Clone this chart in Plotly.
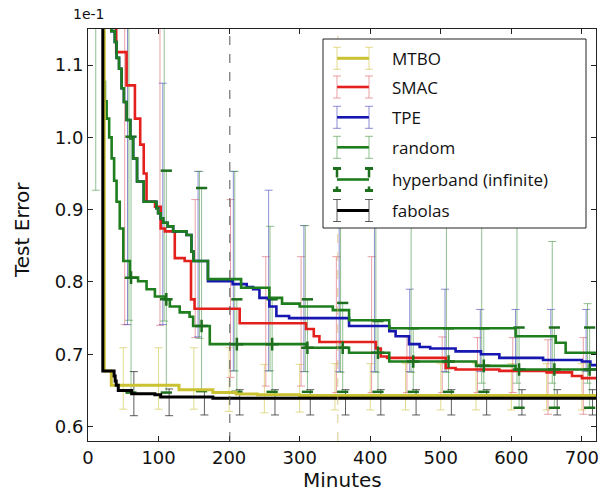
import numpy as np
import plotly.graph_objects as go

# ---------------- data (test error in units of 1e-1, time in minutes) -------------
mtbo_x = [0, 23, 33, 129, 177, 210, 240, 300, 720]
mtbo_y = [1.30, 0.677, 0.657, 0.651, 0.647, 0.645, 0.644, 0.643, 0.643]

smac_x = [0, 40, 54.6, 66.5, 74, 79, 83, 95, 103, 109, 123, 137, 146, 151, 215,
          309, 320, 328, 408, 415, 424, 507, 521, 583, 650, 686, 700, 720]
smac_y = [1.30, 1.118, 1.072, 1.026, 0.99, 0.95, 0.911, 0.904, 0.874, 0.870, 0.833,
          0.829, 0.776, 0.763, 0.743, 0.735, 0.725, 0.717, 0.708, 0.697, 0.695,
          0.681, 0.679, 0.677, 0.675, 0.670, 0.667, 0.667]

tpe_x = [0, 33, 38, 40.5, 44, 47.6, 50.9, 54.7, 60, 64, 69.5, 79, 97, 99.4, 103,
         106.5, 113, 120.7, 139.6, 146.6, 149.5,
         170, 205, 225, 234, 243, 257, 267, 285, 370, 427, 436, 455, 470, 485, 521,
         557, 583, 645, 700, 712, 720]
tpe_y = [1.30, 1.147, 1.132, 1.11, 1.095, 1.068, 1.049, 1.024, 0.999, 0.971, 0.939,
         0.911, 0.902, 0.895, 0.888, 0.882, 0.877, 0.870, 0.865, 0.842, 0.829,
         0.801, 0.797, 0.793, 0.790, 0.778, 0.766, 0.753, 0.750, 0.739, 0.732, 0.725,
         0.714, 0.710, 0.708, 0.704, 0.700, 0.695, 0.692, 0.690, 0.685, 0.685]

random_x = [0, 33, 38, 40.5, 44, 47.6, 50.9, 54.7, 60, 64, 69.5, 79, 97, 99.4, 103,
            106.5, 113, 120.7, 139.6, 146.6, 149.5,
            170, 217, 257, 275, 300, 347, 370, 427, 606, 663, 677, 720]
random_y = [1.30, 1.147, 1.132, 1.11, 1.095, 1.068, 1.049, 1.024, 0.999, 0.971, 0.939,
            0.911, 0.902, 0.895, 0.888, 0.882, 0.877, 0.870, 0.865, 0.842, 0.829,
            0.804, 0.792, 0.778, 0.770, 0.766, 0.761, 0.747, 0.736, 0.725, 0.716,
            0.702, 0.702]

hyper_x = [21.5, 24, 26.4, 30, 33.5, 37, 40.5, 45, 50, 59.4, 71, 83, 94.8, 109, 116,
           130, 144, 149, 172.6, 309, 370, 427, 550, 606, 720]
hyper_y = [1.077, 1.05, 1.026, 1.0, 0.971, 0.94, 0.911, 0.874, 0.829, 0.806, 0.801,
           0.790, 0.780, 0.776, 0.766, 0.758, 0.752, 0.739, 0.714, 0.709, 0.702,
           0.690, 0.684, 0.679, 0.679]

fabolas_x = [0, 21, 37, 38.5, 40, 42.9, 61.8, 94.8, 103, 177, 720]
fabolas_y = [1.30, 0.677, 0.670, 0.663, 0.657, 0.650, 0.6455, 0.644, 0.641, 0.639, 0.639]

# error bar positions and extents (upper / lower whisker ends)
mtbo_ex = [50, 100, 150, 200, 250, 300, 350, 400, 450, 500, 550, 600, 650, 700]
mtbo_up = [0.709, 0.709, 0.709, 0.709, 0.686, 0.686, 0.687, 0.687, 0.687, 0.687, 0.687, 0.687, 0.687, 0.687]
mtbo_lo = [0.624, 0.624, 0.624, 0.621, 0.619, 0.620, 0.623, 0.623, 0.623, 0.623, 0.623, 0.623, 0.623, 0.623]

smac_ex = [52, 102, 152, 202, 252, 302, 352, 402, 452, 502, 552, 602, 652, 702]
smac_up = [1.30, 1.30, 0.914, 0.914, 0.835, 0.835, 0.835, 0.835, 0.724, 0.724, 0.723, 0.723, 0.720, 0.723]
smac_lo = [0.741, 0.740, 0.723, 0.668, 0.656, 0.656, 0.647, 0.647, 0.647, 0.647, 0.647, 0.647, 0.617, 0.617]

tpe_ex = [56, 106, 156, 206, 256, 306, 356, 406, 456, 506, 556, 606, 656, 706]
tpe_up = [1.30, 1.075, 0.953, 0.953, 0.927, 0.878, 0.90, 0.90, 0.790, 0.790, 0.762, 0.762, 0.762, 0.762]
tpe_lo = [0.741, 0.741, 0.724, 0.677, 0.677, 0.676, 0.676, 0.676, 0.676, 0.676, 0.676, 0.676, 0.676, 0.676]

random_ex = [11, 58, 108, 158, 208, 258, 308, 358, 408, 458, 508, 558, 608, 658, 708]
random_up = [1.50, 1.30, 1.30, 0.953, 0.953, 0.877, 0.878, 0.95, 0.95, 0.95, 0.95, 0.95, 0.95, 0.856, 0.770]
random_lo = [0.927, 0.747, 0.746, 0.722, 0.677, 0.677, 0.676, 0.675, 0.675, 0.675, 0.675, 0.660, 0.660, 0.660, 0.660]

hyper_ex = [61, 111, 161, 211, 261, 311, 361, 411, 461, 511, 561, 611, 661, 711]
hyper_up = [1.001, 0.954, 0.930, 0.776, 0.776, 0.776, 0.771, 0.746, 0.736, 0.736, 0.736, 0.737, 0.737, 0.737]
hyper_lo = [0.647, 0.647, 0.649, 0.648, 0.648, 0.648, 0.648, 0.648, 0.648, 0.648, 0.648, 0.626, 0.626, 0.626]

fabolas_ex = [65, 115, 165, 215, 265, 315, 365, 415, 465, 515, 565, 615, 665, 715]
fabolas_up = [0.676, 0.652, 0.651, 0.651, 0.651, 0.651, 0.651, 0.651, 0.651, 0.651, 0.651, 0.651, 0.651, 0.651]
fabolas_lo = [0.615, 0.615, 0.616, 0.616, 0.616, 0.616, 0.616, 0.616, 0.616, 0.616, 0.616, 0.616, 0.616, 0.616]

x_ticks = [0, 100, 200, 300, 400, 500, 600, 700]
y_ticks = [0.6, 0.7, 0.8, 0.9, 1.0, 1.1]
marker_lines = [201, 354]

labels = ["MTBO", "SMAC", "TPE", "random", "hyperband (infinite)", "fabolas"]


def step_value(xs, ys, q):
    xs = np.asarray(xs, float)
    ys = np.asarray(ys, float)
    i = np.searchsorted(xs, np.asarray(q, float), side="right") - 1
    i = np.clip(i, 0, len(xs) - 1)
    return ys[i]


series = [
    # name, x, y, ex, up, lo, line colour, bar colour, width
    (labels[0], mtbo_x, mtbo_y, mtbo_ex, mtbo_up, mtbo_lo, "#cac232", "rgba(214,204,92,0.7)", 3),
    (labels[1], smac_x, smac_y, smac_ex, smac_up, smac_lo, "#e3201c", "rgba(222,110,120,0.65)", 2.6),
    (labels[2], tpe_x, tpe_y, tpe_ex, tpe_up, tpe_lo, "#1616b0", "rgba(80,80,190,0.65)", 2.6),
    (labels[3], random_x, random_y, random_ex, random_up, random_lo, "#1e7e1e", "rgba(70,150,70,0.6)", 2.6),
    (labels[4], hyper_x, hyper_y, hyper_ex, hyper_up, hyper_lo, "#1e7e1e", "rgba(70,150,70,0.6)", 2.6),
    (labels[5], fabolas_x, fabolas_y, fabolas_ex, fabolas_up, fabolas_lo, "#000000", "rgba(40,40,40,0.75)", 3),
]

fig = go.Figure()

# error bars (behind curves)
for name, xs, ys, ex, up, lo, lc, bc, lw in series:
    mean = step_value(xs, ys, ex)
    fig.add_trace(go.Scatter(
        x=ex, y=mean, mode="markers", showlegend=False, hoverinfo="skip",
        marker=dict(size=1, opacity=0),
        error_y=dict(type="data", symmetric=False,
                     array=np.asarray(up) - mean, arrayminus=mean - np.asarray(lo),
                     color=bc, thickness=1, width=4)))

# thick hyperband caps
fig.add_trace(go.Scatter(
    x=hyper_ex + hyper_ex, y=hyper_up + hyper_lo, mode="markers", showlegend=False,
    hoverinfo="skip",
    marker=dict(symbol="line-ew", size=8, line=dict(width=2.5, color="#1d6e1d"))))

# curves
draw_order = [1, 2, 3, 4, 0, 5]
for k in draw_order:
    name, xs, ys, ex, up, lo, lc, bc, lw = series[k]
    fig.add_trace(go.Scatter(x=xs, y=ys, mode="lines", line=dict(color=lc, width=lw, shape="hv"),
                             name=name, showlegend=False))

# hyperband '+' markers
fig.add_trace(go.Scatter(
    x=hyper_ex, y=step_value(hyper_x, hyper_y, hyper_ex), mode="markers", showlegend=False,
    marker=dict(symbol="cross-thin", size=9, line=dict(width=2.5, color="#1d6e1d"))))

L, R, T, B = 88, 596, 29, 441
W, H = 610, 492


def pxx(v):
    return (v - L) / (R - L)


def pxy(v):
    return (B - v) / (B - T)


shapes = []
for i, xv in enumerate(marker_lines):
    shapes.append(dict(type="line", xref="x", yref="paper", x0=xv, x1=xv, y0=0, y1=1,
                       line=dict(color="#555555" if i == 0 else "rgba(205,185,110,0.75)",
                                 width=1, dash="dash"), layer="above"))

# legend box
shapes.append(dict(type="rect", xref="paper", yref="paper", x0=pxx(323), x1=pxx(586),
                   y0=pxy(228), y1=pxy(39), line=dict(color="#222222", width=1),
                   fillcolor="white", layer="above"))
rows = [58.3, 87.0, 117.3, 147.3, 179.5, 210.5]
annotations = []
xa, xb = 337, 369
for (name, xs, ys, ex, up, lo, lc, bc, lw), cy in zip(series, rows):
    hyper = name.startswith("hyperband")
    capc = "#1d6e1d" if hyper else bc
    capw = 3 if hyper else 1
    shapes.append(dict(type="line", xref="paper", yref="paper", x0=pxx(xa), x1=pxx(xb),
                       y0=pxy(cy), y1=pxy(cy), line=dict(color=lc, width=lw), layer="above"))
    for xe in (xa, xb):
        shapes.append(dict(type="line", xref="paper", yref="paper", x0=pxx(xe), x1=pxx(xe),
                           y0=pxy(cy - 11), y1=pxy(cy + 11),
                           line=dict(color=capc if hyper else bc, width=2.5 if hyper else 1,
                                     dash="dash" if hyper else "solid"), layer="above"))
        for yc in (cy - 11, cy + 11):
            shapes.append(dict(type="line", xref="paper", yref="paper", x0=pxx(xe - 4),
                               x1=pxx(xe + 4), y0=pxy(yc), y1=pxy(yc),
                               line=dict(color=capc, width=capw), layer="above"))
    annotations.append(dict(text=name, xref="paper", yref="paper", x=pxx(390), y=pxy(cy),
                            xanchor="left", yanchor="middle", showarrow=False,
                            font=dict(family="Open Sans", size=17, color="#111111")))

annotations += [
    dict(text="1e-1", xref="paper", yref="paper", x=pxx(88), y=pxy(14), showarrow=False,
         xanchor="center", yanchor="middle", font=dict(family="DejaVu Sans", size=14, color="#111")),
    dict(text="Test Error", xref="paper", yref="paper", x=pxx(22), y=pxy(230), showarrow=False,
         textangle=-90, xanchor="center", yanchor="middle",
         font=dict(family="DejaVu Sans", size=20, color="#111")),
    dict(text="Minutes", xref="paper", yref="paper", x=pxx(342), y=pxy(480), showarrow=False,
         xanchor="center", yanchor="middle", font=dict(family="DejaVu Sans", size=20, color="#111")),
]

fig.update_layout(
    width=W, height=H, margin=dict(l=L, r=W - R, t=T, b=H - B),
    paper_bgcolor="white", plot_bgcolor="white", showlegend=False,
    shapes=shapes, annotations=annotations,
    xaxis=dict(range=[0, 720], tickvals=x_ticks, ticks="inside", ticklen=5, tickcolor="#222",
               showline=True, linecolor="#222", linewidth=1, mirror="ticks", showgrid=False,
               zeroline=False, tickfont=dict(family="DejaVu Sans", size=18, color="#111")),
    yaxis=dict(range=[0.58, 1.15], tickvals=y_ticks, tickformat=".1f", ticks="inside",
               ticklen=5, tickcolor="#222", showline=True, linecolor="#222", linewidth=1,
               mirror="ticks", showgrid=False, zeroline=False,
               tickfont=dict(family="DejaVu Sans", size=18, color="#111")),
)

fig.write_html("out.html", config={"displayModeBar": False},
               post_script="document.body.style.margin='0';document.body.style.padding='0';")
